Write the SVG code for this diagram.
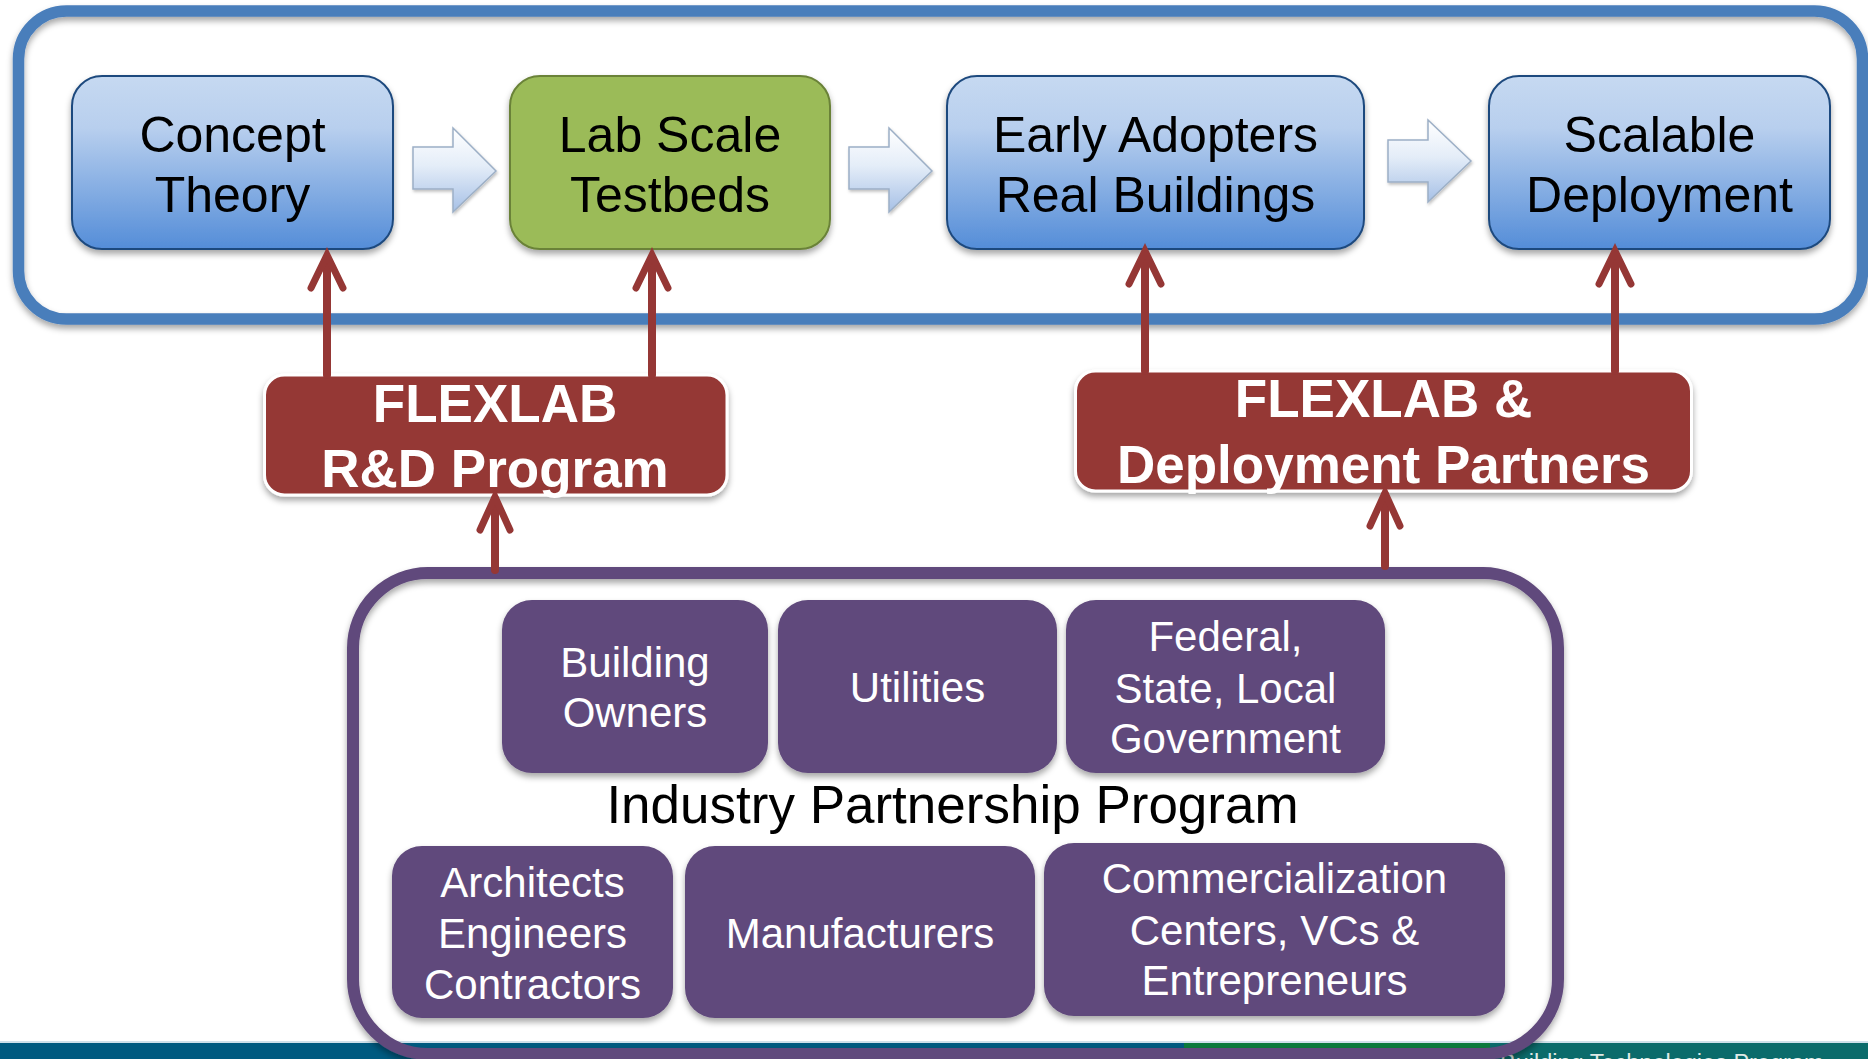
<svg xmlns="http://www.w3.org/2000/svg" width="1868" height="1059" viewBox="0 0 1868 1059">
  <style>
    .t-top { font-family: "Liberation Sans", Arial, sans-serif; font-size: 50px; fill: #000; text-anchor: middle; }
    .t-red { font-family: "Liberation Sans", Arial, sans-serif; font-size: 53px; font-weight: bold; fill: #fff; text-anchor: middle; }
    .t-pur { font-family: "Liberation Sans", Arial, sans-serif; font-size: 42px; fill: #fff; text-anchor: middle; }
    .t-prog { font-family: "Liberation Sans", Arial, sans-serif; font-size: 53px; fill: #000; text-anchor: middle; }
    .t-foot { font-family: "Liberation Sans", Arial, sans-serif; font-size: 23.5px; fill: #dfe9e6; }
    .stage { stroke: #1f4a7e; stroke-width: 2; filter: url(#sh); }
    .blue { fill: url(#gBlue); }
    .green { fill: #9bbb59; stroke: #6a8238; }
    .flow { fill: url(#gArrow); stroke: #9cafc6; stroke-width: 1.5; filter: url(#shs); }
    .red { fill: #953735; stroke: #fff; stroke-width: 3; filter: url(#sh); }
    .pur { fill: #604a7b; filter: url(#sh); }
    .conn { stroke: #953735; stroke-width: 8; fill: none; stroke-linecap: round; }
    .head { stroke: #953735; stroke-width: 7; fill: none; stroke-linecap: round; stroke-linejoin: miter; }
  </style>
  <defs>
    <linearGradient id="gBlue" x1="0" y1="0" x2="0" y2="1">
      <stop offset="0" stop-color="#c6d9f1"/>
      <stop offset="0.3" stop-color="#b8cfee"/>
      <stop offset="1" stop-color="#548dd8"/>
    </linearGradient>
    <linearGradient id="gArrow" x1="0" y1="0" x2="0" y2="1">
      <stop offset="0" stop-color="#ffffff"/>
      <stop offset="0.45" stop-color="#e4edf8"/>
      <stop offset="1" stop-color="#a6c0e6"/>
    </linearGradient>
    <filter id="sh" x="-10%" y="-10%" width="120%" height="135%">
      <feDropShadow dx="0" dy="4" stdDeviation="3" flood-color="#000" flood-opacity="0.35"/>
    </filter>
    <filter id="shs" x="-10%" y="-10%" width="125%" height="130%">
      <feDropShadow dx="1" dy="2" stdDeviation="1.5" flood-color="#000" flood-opacity="0.25"/>
    </filter>
  </defs>

  <rect width="1868" height="1059" fill="#fff"/>

  <!-- footer band -->
  <g id="footer">
    <rect x="0" y="1041" width="1868" height="2" fill="#cfe0ea"/>
    <rect x="0" y="1043" width="1184" height="16" fill="#005a80"/>
    <rect x="1184" y="1043" width="306" height="16" fill="#0b7a3c"/>
    <rect x="1490" y="1043" width="378" height="16" fill="#0b6b6b"/>
    <text class="t-foot" x="1500" y="1071">Building Technologies Program</text>
  </g>

  <!-- pipeline frame -->
  <g id="pipeline">
    <rect x="18.5" y="11" width="1844" height="308" rx="48" fill="none" stroke="#4a7ebb" stroke-width="11.5" filter="url(#sh)"/>
  </g>

  <!-- industry partnership frame -->
  <g id="industry-partnership">
    <rect x="353" y="573" width="1205" height="481" rx="75" fill="none" stroke="#604a7b" stroke-width="12" filter="url(#sh)"/>
    <text class="t-prog" x="952.5" y="823">Industry Partnership Program</text>
  </g>

  <!-- stage boxes -->
  <g id="concept-theory">
    <rect class="stage blue" x="72" y="76" width="321" height="173" rx="30"/>
    <text class="t-top" x="232.5" y="152">Concept</text>
    <text class="t-top" x="232.5" y="212">Theory</text>
  </g>
  <g id="lab-scale">
    <rect class="stage green" x="510" y="76" width="320" height="173" rx="30"/>
    <text class="t-top" x="670" y="152">Lab Scale</text>
    <text class="t-top" x="670" y="212">Testbeds</text>
  </g>
  <g id="early-adopters">
    <rect class="stage blue" x="947" y="76" width="417" height="173" rx="30"/>
    <text class="t-top" x="1155.5" y="152">Early Adopters</text>
    <text class="t-top" x="1155.5" y="212">Real Buildings</text>
  </g>
  <g id="scalable-deployment">
    <rect class="stage blue" x="1489" y="76" width="341" height="173" rx="30"/>
    <text class="t-top" x="1659.5" y="152">Scalable</text>
    <text class="t-top" x="1659.5" y="212">Deployment</text>
  </g>

  <!-- program labels -->
  <g id="flexlab-rd">
    <rect class="red" x="264.5" y="375" width="462.5" height="120" rx="20"/>
    <text class="t-red" x="495" y="422">FLEXLAB</text>
    <text class="t-red" x="495" y="487">R&amp;D Program</text>
  </g>
  <g id="flexlab-deployment">
    <rect class="red" x="1075.5" y="371" width="616" height="120" rx="20"/>
    <text class="t-red" x="1383.5" y="417">FLEXLAB &amp;</text>
    <text class="t-red" x="1383.5" y="483">Deployment Partners</text>
  </g>

  <!-- partner groups -->
  <g id="building-owners">
    <rect class="pur" x="502" y="600" width="266" height="173" rx="30"/>
    <text class="t-pur" x="635" y="677">Building</text>
    <text class="t-pur" x="635" y="727">Owners</text>
  </g>
  <g id="utilities">
    <rect class="pur" x="778" y="600" width="279" height="173" rx="30"/>
    <text class="t-pur" x="917.5" y="702">Utilities</text>
  </g>
  <g id="government">
    <rect class="pur" x="1066" y="600" width="319" height="173" rx="30"/>
    <text class="t-pur" x="1225.5" y="651">Federal,</text>
    <text class="t-pur" x="1225.5" y="703">State, Local</text>
    <text class="t-pur" x="1225.5" y="753">Government</text>
  </g>
  <g id="aec">
    <rect class="pur" x="392" y="846" width="281" height="172" rx="30"/>
    <text class="t-pur" x="532.5" y="897">Architects</text>
    <text class="t-pur" x="532.5" y="948">Engineers</text>
    <text class="t-pur" x="532.5" y="999">Contractors</text>
  </g>
  <g id="manufacturers">
    <rect class="pur" x="685" y="846" width="350" height="172" rx="30"/>
    <text class="t-pur" x="860" y="948">Manufacturers</text>
  </g>
  <g id="commercialization">
    <rect class="pur" x="1044" y="843" width="461" height="173" rx="30"/>
    <text class="t-pur" x="1274.5" y="893">Commercialization</text>
    <text class="t-pur" x="1274.5" y="945">Centers, VCs &amp;</text>
    <text class="t-pur" x="1274.5" y="995">Entrepreneurs</text>
  </g>

  <!-- connectors -->
  <g id="connectors">
    <!-- stage-to-stage block arrows -->
    <path class="flow" d="M413,147 H453 V128 L496,171 L453,212 V189 H413 Z"/>
    <path class="flow" d="M849,147 H889 V128 L932,171 L889,212 V189 H849 Z"/>
    <path class="flow" d="M1388,140 H1428 V120 L1471,161 L1428,202 V182 H1388 Z"/>

    <!-- feed arrows -->
    <line class="conn" x1="327" y1="375" x2="327" y2="258"/>
    <path class="head" d="M311,288 L327,255 L343,288"/>
    <line class="conn" x1="652" y1="375" x2="652" y2="258"/>
    <path class="head" d="M636,288 L652,255 L668,288"/>
    <line class="conn" x1="1145" y1="371" x2="1145" y2="254"/>
    <path class="head" d="M1129,284 L1145,251 L1161,284"/>
    <line class="conn" x1="1615" y1="371" x2="1615" y2="254"/>
    <path class="head" d="M1599,284 L1615,251 L1631,284"/>
    <line class="conn" x1="495" y1="570" x2="495" y2="499"/>
    <path class="head" d="M480,530 L495,497 L510,530"/>
    <line class="conn" x1="1385" y1="566" x2="1385" y2="495"/>
    <path class="head" d="M1370,526 L1385,493 L1400,526"/>
  </g>
</svg>
